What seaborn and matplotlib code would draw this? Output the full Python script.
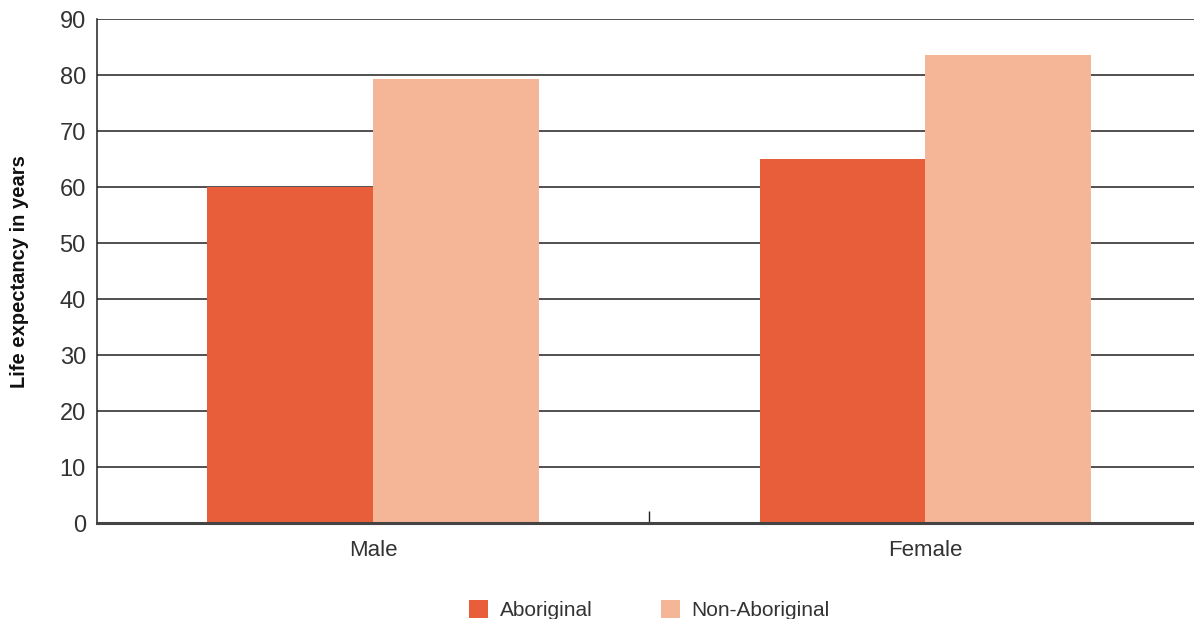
import numpy as np
import pandas as pd
import matplotlib.pyplot as plt
import seaborn as sns
from matplotlib.patches import Patch

sex = ['Male', 'Female']
groups = ['Aboriginal', 'Non-Aboriginal']
aboriginal = [60.0, 65.0]
non_aboriginal = [79.3, 83.6]
colors = ['#E85E3A', '#F5B597']

df = pd.DataFrame({
    'sex': sex * 2,
    'group': [groups[0]] * 2 + [groups[1]] * 2,
    'value': aboriginal + non_aboriginal,
})

sns.set_style('white')
plt.rcParams['font.family'] = ['Liberation Sans', 'DejaVu Sans']
txt = '#333333'

fig = plt.figure(figsize=(11.94, 6.19), dpi=100)
ax = fig.add_axes([0.0812, 0.155, 0.919, 0.814])

sns.barplot(data=df, x='sex', y='value', hue='group', order=sex, hue_order=groups,
            palette=colors, width=0.6, saturation=1, errorbar=None, ax=ax,
            linewidth=0, legend=False)

ax.set_ylim(0, 90)
ax.set_xlim(-0.5, 1.487)
ax.set_yticks(np.arange(0, 91, 10))
ax.set_axisbelow(True)
ax.yaxis.grid(True, color='#231f20', linewidth=1.1)
ax.xaxis.grid(False)

for s in ['top', 'right']:
    ax.spines[s].set_visible(False)
ax.spines['left'].set_color('#231f20')
ax.spines['left'].set_linewidth(1.1)
ax.spines['bottom'].set_color('#444444')
ax.spines['bottom'].set_linewidth(2.2)

ax.tick_params(axis='y', length=0, labelsize=17, colors=txt, pad=8)
ax.tick_params(axis='x', which='major', length=0, labelsize=16, colors=txt, pad=12)
ax.set_xticks([0.5], minor=True)
ax.tick_params(axis='x', which='minor', bottom=True, direction='in', length=9,
               width=1, color='#231f20')

ax.set_xlabel('')
ax.set_ylabel('Life expectancy in years', fontsize=14.5, fontweight='bold', color='#111111',
              labelpad=22)

handles = [Patch(facecolor=c, edgecolor='none') for c in colors]
fig.legend(handles, groups, loc='lower center', bbox_to_anchor=(0.544, -0.032), ncol=2,
           frameon=False, fontsize=15, handlelength=0.9, handleheight=0.9,
           handletextpad=0.55, columnspacing=3.3, labelcolor=txt)

fig.savefig('out.png', dpi=100)
